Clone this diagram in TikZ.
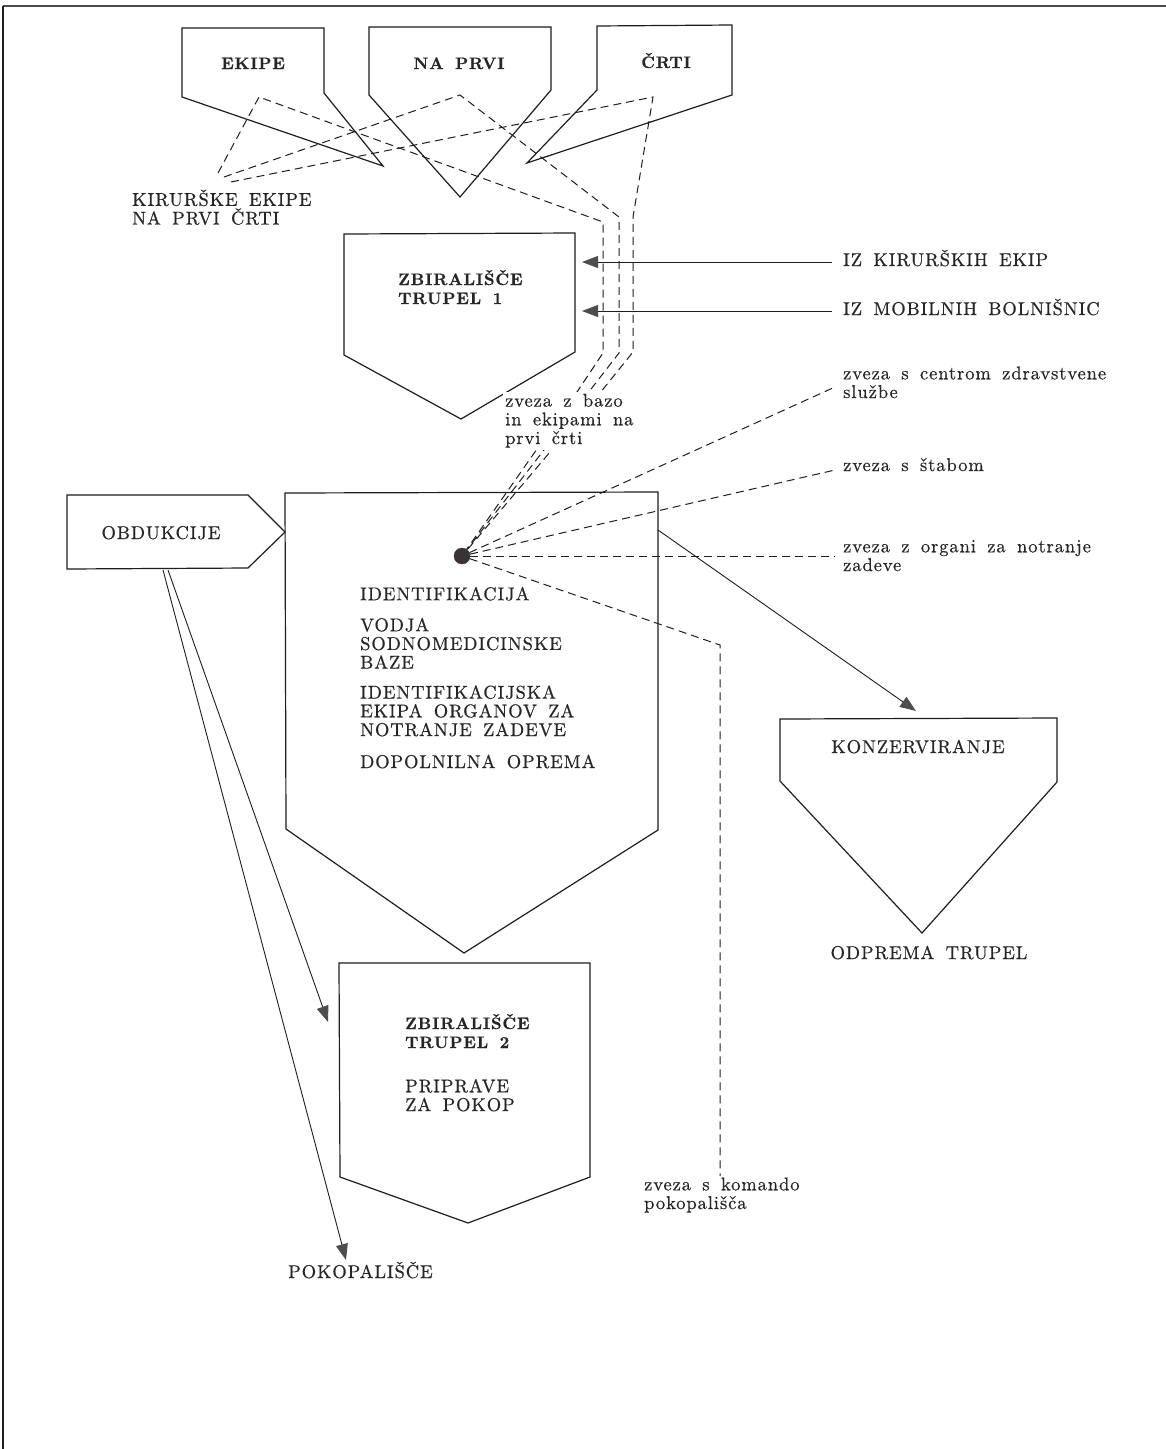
\documentclass[tikz,border=0pt]{standalone}
\usepackage{fontspec}
\setmainfont{lmroman10}[Extension=.otf,UprightFont=*-regular,BoldFont=*-bold,UprightFeatures={FakeBold=0.5},BoldFeatures={FakeBold=0.6},LetterSpace=5,WordSpace=1.6]
\usetikzlibrary{arrows.meta}
\definecolor{ink}{HTML}{1E1E1E}
\definecolor{txt}{HTML}{262626}
\definecolor{headc}{HTML}{4D4D4D}
\definecolor{dotc}{HTML}{3B3232}
\begin{document}
\begin{tikzpicture}[x=1pt,y=-1pt,
  box/.style={draw=ink,line width=1.2pt,line join=miter},
  dsh/.style={draw=ink,line width=1pt,dash pattern=on 8pt off 5pt},
  arr/.style={draw=ink,line width=0.9pt,-{Triangle[length=16pt,width=12pt,fill=headc,color=headc]}},
  lbl/.style={font=\fontsize{18.5}{18.7}\selectfont,text=txt,inner sep=0pt,anchor=base west,align=left},
  blbl/.style={font=\fontsize{16.6}{19}\selectfont\bfseries,text=txt,inner sep=0pt,anchor=base west,align=left},
  ctr/.style={anchor=base,align=center}]
\useasboundingbox (0,0) rectangle (1166,1449);
\fill[white] (0,0) rectangle (1166,1449);
% page border
\draw[line width=2pt,draw=black!70] (3,6) -- (1166,6);
\draw[line width=1.5pt,draw=ink] (3,6) -- (3,1449);

% ---- shapes ----
\draw[box] (182,28) -- (324,28) -- (324,93) -- (383,166) -- (182,97) -- cycle;
\draw[box] (369,27) -- (551,27) -- (551,90) -- (460,197) -- (369,95) -- cycle;
\draw[box] (597,26) -- (732,25) -- (732,95) -- (527,163) -- (597,90) -- cycle;
\draw[box] (344,234) -- (575,233) -- (575,352) -- (461,419) -- (344,355) -- cycle;
\draw[box] (285,493) -- (658,492) -- (658,830) -- (464,953) -- (286,829) -- cycle;
\draw[box] (67,495) -- (248,495) -- (285,532) -- (248,568) -- (67,569) -- cycle;
\draw[box] (780,719) -- (1057,718) -- (1057,782) -- (922,933) -- (780,781) -- cycle;
\draw[box] (339,963) -- (590,963) -- (590,1177) -- (468,1223) -- (340,1177) -- cycle;

% ---- texts (multi-line nodes are anchored at the baseline of their last line) ----
\node[blbl,ctr] (tEkipe) at (253,69) {EKIPE};
\node[blbl,ctr] (tNaPrvi) at (459,69) {NA PRVI};
\node[blbl,ctr] (tCrti) at (666,68) {ČRTI};
\node[lbl] (tKir) at (132,224.5) {KIRURŠKE EKIPE\\NA PRVI ČRTI};
\node[blbl] (tZb1) at (398,304) {ZBIRALIŠČE\\TRUPEL 1};
\node[lbl] (tIzKir) at (843,266) {IZ KIRURŠKIH EKIP};
\node[lbl] (tIzMob) at (843,315) {IZ MOBILNIH BOLNIŠNIC};
\node[lbl] (tCen) at (843,398) {zveza s centrom zdravstvene\\službe};
\node[lbl] (tStab) at (843,471) {zveza s štabom};
\node[lbl] (tNot) at (843,571) {zveza z organi za notranje\\zadeve};
\node[lbl,ctr] (tObd) at (161,539) {OBDUKCIJE};
\node[lbl] (tMain) at (360,768) {IDENTIFIKACIJA\\[12.3pt]VODJA\\SODNOMEDICINSKE\\BAZE\\[11.3pt]IDENTIFIKACIJSKA\\EKIPA ORGANOV ZA\\NOTRANJE ZADEVE\\[13.3pt]DOPOLNILNA OPREMA};
\node[lbl,ctr] (tKonz) at (918,753) {KONZERVIRANJE};
\node[lbl,ctr] (tOdp) at (929,959) {ODPREMA TRUPEL};
\node[blbl] (tZb2) at (405,1048) {ZBIRALIŠČE\\TRUPEL 2};
\node[lbl] (tPrip) at (405,1111) {PRIPRAVE\\ZA POKOP};
\node[lbl] (tKom) at (644,1209) {zveza s komando\\pokopališča};
\node[lbl] (tPok) at (288,1278) {POKOPALIŠČE};

% ---- dot ----
\node[circle,fill=dotc,draw=dotc,minimum size=16pt,inner sep=0pt] (dot) at (462,556) {};

% ---- dashed bundle from front-line teams ----
\draw[dsh] (218,173) -- (259,97) -- (603,222) -- (603,353) -- (577,392) -- (dot);
\draw[dsh] (224,177) -- (460,95) -- (619,217) -- (619,353) -- (588,393) -- (dot);
\draw[dsh] (231,182) -- (653,97) -- (633,217) -- (633,352) -- (600,393) -- (dot);
\node[lbl,fill=white,inner sep=2pt] (tBaza) at (503,444) {zveza z bazo\\in ekipami na\\prvi črti};

% ---- dashed links from dot ----
\coordinate (eCen) at (835,387);
\coordinate (eStab) at (835,470);
\coordinate (eNot) at (835,556);
\coordinate (kBend) at (720,645);
\coordinate (eKom) at (720,1176);
\draw[dsh] (dot) -- (eCen);
\draw[dsh] (dot) -- (eStab);
\draw[dsh] (dot) -- (eNot);
\draw[dsh] (dot) -- (kBend) -- (eKom);

% ---- arrows ----
\coordinate (sKir) at (832,262);
\coordinate (hKir) at (582,262);
\coordinate (sMob) at (832,311);
\coordinate (hMob) at (582,311);
\draw[arr] (sKir) -- (hKir);
\draw[arr] (sMob) -- (hMob);
\coordinate (sKonz) at (658,530);
\coordinate (hKonz) at (916,711);
\draw[arr] (sKonz) -- (hKonz);
\coordinate (sZb2) at (168,570);
\coordinate (hZb2) at (328,1022);
\coordinate (sPok) at (163,570);
\coordinate (hPok) at (346,1260);
\draw[arr] (sZb2) -- (hZb2);
\draw[arr] (sPok) -- (hPok);
\end{tikzpicture}
\end{document}
